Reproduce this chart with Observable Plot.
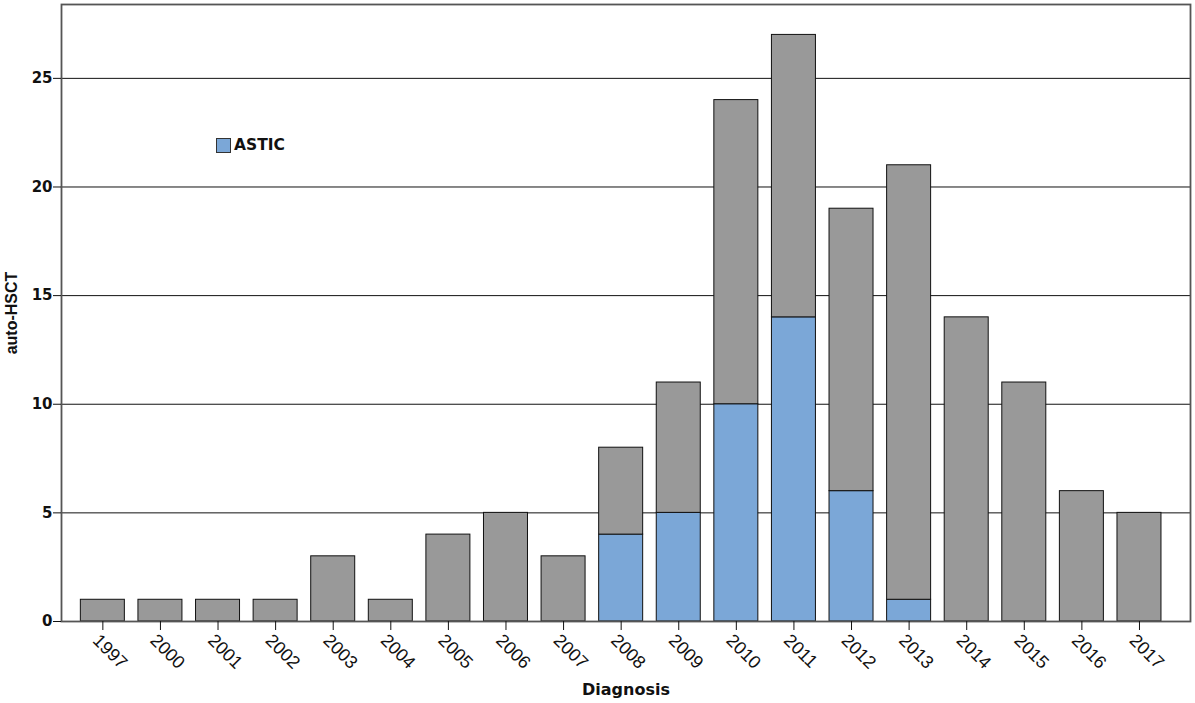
<!DOCTYPE html>
<html>
<head>
<meta charset="utf-8">
<script src="https://cdn.jsdelivr.net/npm/d3@7"></script>
<script src="https://cdn.jsdelivr.net/npm/@observablehq/plot@0.6"></script>
<style>
  html, body { margin: 0; padding: 0; background: #fff; }
  #wrap { position: relative; width: 1195px; height: 703px; font-family: "DejaVu Sans", sans-serif; }
  #legend { position: absolute; left: 216px; top: 136px; display: flex; align-items: center; font-weight: bold; font-size: 15.5px; color: #111; }
  #legend .sw { width: 15px; height: 15px; background: #7ba7d7; border: 1.5px solid #333; box-sizing: border-box; margin-right: 3px; }
</style>
</head>
<body>
<div id="wrap"></div>
<script>
const years = ["1997","2000","2001","2002","2003","2004","2005","2006","2007","2008","2009","2010","2011","2012","2013","2014","2015","2016","2017"];
const totals = [1,1,1,1,3,1,4,5,3,8,11,24,27,19,21,14,11,6,5];
const astic  = [0,0,0,0,0,0,0,0,0,4,5,10,14,6,1,0,0,0,0];
const seriesNames = ["ASTIC", "Other"];
const seriesColors = ["#7ba7d7", "#999999"];
const yTicks = [0,5,10,15,20,25];
const gridTicks = [5,10,15,20,25];
const xTitle = "Diagnosis";
const yTitle = "auto-HSCT";

const data = [];
years.forEach((yr, i) => {
  data.push({year: yr, series: seriesNames[0], value: astic[i]});
  data.push({year: yr, series: seriesNames[1], value: totals[i] - astic[i]});
});

const chart = Plot.plot({
  width: 1195,
  height: 703,
  marginLeft: 61,
  marginRight: 5,
  marginTop: 4,
  marginBottom: 82,
  style: { fontFamily: "DejaVu Sans", fontSize: "14px", background: "white", color: "#111" },
  x: { domain: years, paddingInner: 0.236, paddingOuter: 0.42, align: 0.4, round: false },
  y: { domain: [0, 28.4] },
  color: { domain: seriesNames, range: seriesColors },
  marks: [
    Plot.gridY(gridTicks, { stroke: "#111", strokeOpacity: 1, strokeWidth: 1 }),
    Plot.barY(data, Plot.stackY({ x: "year", y: "value", fill: "series", stroke: "#111", strokeWidth: 1, order: seriesNames })),
    Plot.frame({ stroke: "#555", strokeWidth: 1.8 }),
    Plot.axisY({ ticks: yTicks, tickSize: 8, tickPadding: 1, fontWeight: "bold", fontSize: 15, label: yTitle, labelAnchor: "center", labelOffset: 56, labelArrow: false }),
    Plot.axisX({ tickRotate: 45, tickSize: 9, tickPadding: 0, fontSize: 18, fontFamily: "Liberation Sans", label: xTitle, labelAnchor: "center", labelOffset: 73, labelArrow: false })
  ]
});
const yTickLabels = yTicks.map(String);
chart.querySelectorAll("text").forEach(t => {
  const s = t.textContent.trim();
  if (s === yTitle) Object.assign(t.style, { fontFamily: "Liberation Sans", fontWeight: "bold", fontSize: "16px" });
  else if (s === xTitle) Object.assign(t.style, { fontFamily: "DejaVu Sans", fontWeight: "bold", fontSize: "16px" });
  else if (years.includes(s)) {
    Object.assign(t.style, { fontFamily: "Liberation Sans", fontWeight: "normal", fontSize: "18px" });
    t.setAttribute("dy", "0.55em");
  }
  else if (yTickLabels.includes(s)) Object.assign(t.style, { fontFamily: "DejaVu Sans", fontWeight: "bold", fontSize: "15px" });
});
const wrap = document.getElementById("wrap");
wrap.appendChild(chart);
const legend = document.createElement("div");
legend.id = "legend";
legend.innerHTML = '<div class="sw"></div><span>' + seriesNames[0] + '</span>';
wrap.appendChild(legend);
</script>
</body>
</html>
